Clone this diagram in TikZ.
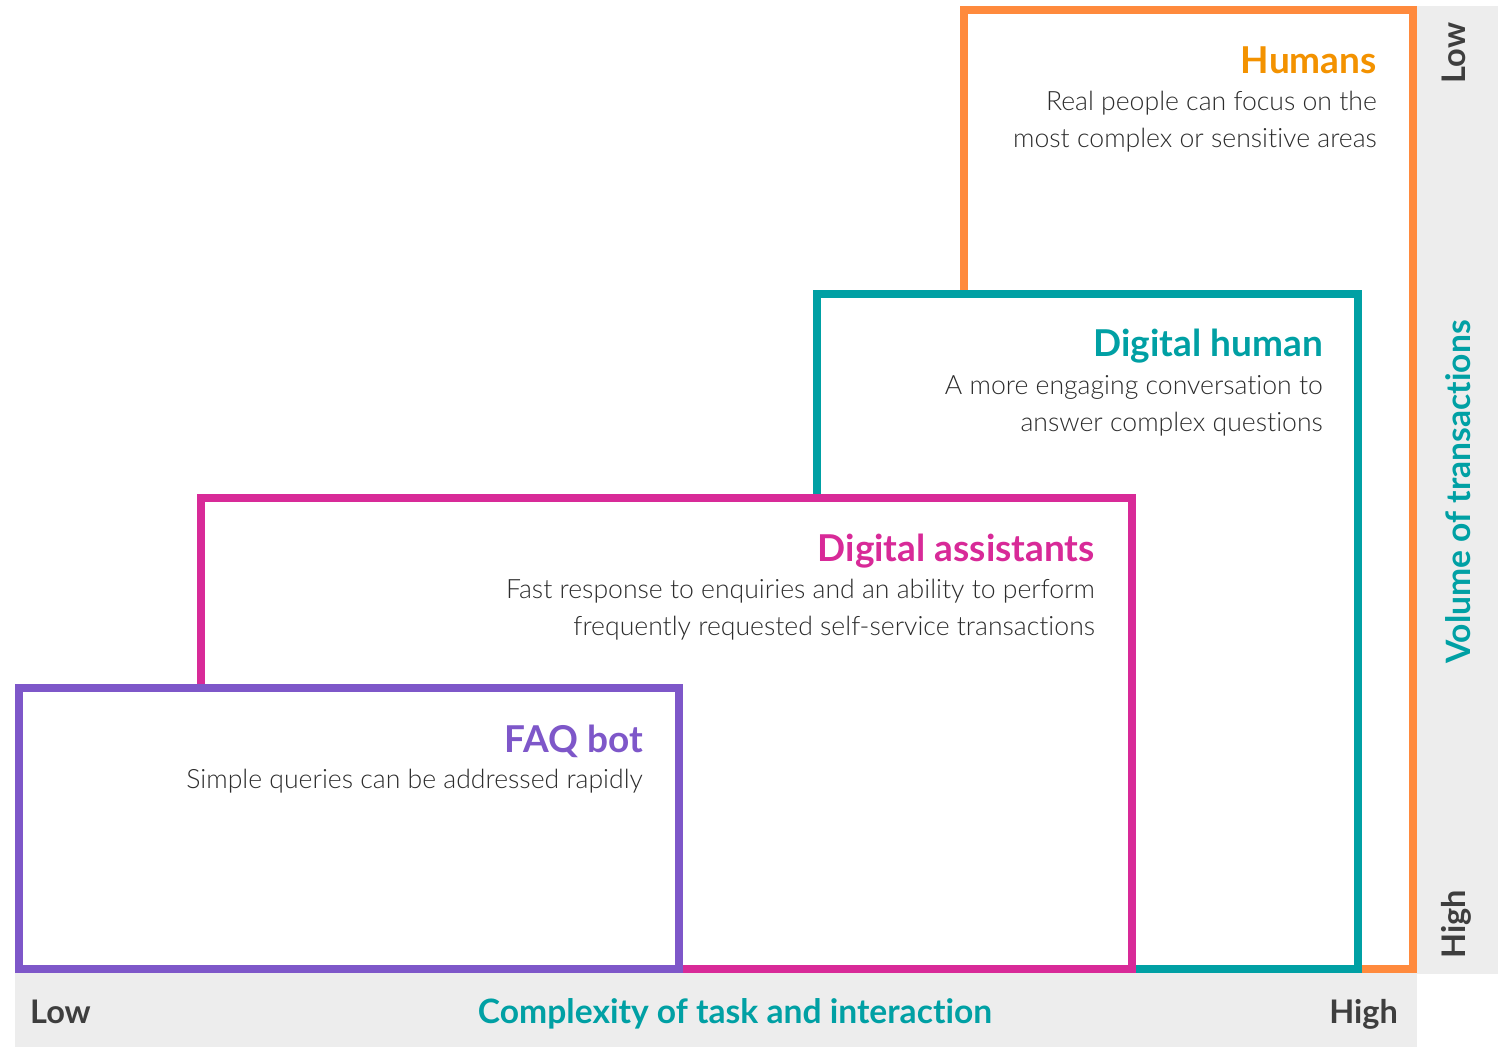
\documentclass[tikz,border=0pt]{standalone}
\usepackage{fontspec}
\setmainfont{Lato}[Ligatures=CommonOff]
\newfontfamily\lightfont{Lato Light}[Ligatures=CommonOff]
\definecolor{humanorange}{HTML}{FF8A3D}
\definecolor{humantitle}{HTML}{F39200}
\definecolor{dhteal}{HTML}{00A0A4}
\definecolor{damagenta}{HTML}{D82A98}
\definecolor{faqpurple}{HTML}{7E57C9}
\definecolor{stripgray}{HTML}{EDEDED}
\definecolor{bodytext}{HTML}{2C2C2C}
\definecolor{axistext}{HTML}{3E3E3E}
\tikzset{
  tierbox/.style={draw=#1, line width=8pt, fill=white},
  tiertitle/.style={anchor=base east, inner sep=0pt, text=#1, font=\fontsize{37}{40}\selectfont\bfseries},
  tierbody/.style={anchor=base east, inner sep=0pt, text=bodytext, font=\lightfont\fontsize{26.6}{37}\selectfont},
  axisend/.style={inner sep=0pt, text=axistext, font=\fontsize{32.5}{36}\selectfont\bfseries},
  axisname/.style={inner sep=0pt, text=dhteal, font=\fontsize{33.6}{36}\selectfont\bfseries},
}
\begin{document}
\begin{tikzpicture}[x=1pt,y=-1pt]
\useasboundingbox (0,0) rectangle (1506,1047);

% axis strips
\fill[stripgray] (15,973) rectangle (1417,1047);
\fill[stripgray] (1417,6) rectangle (1498,974);

% nested tiers, back to front
\draw[tierbox=humanorange] (964,10) rectangle (1413,969);
\draw[tierbox=dhteal] (817,294) rectangle (1358,969);
\draw[tierbox=damagenta] (201,498) rectangle (1132,969);
\draw[tierbox=faqpurple] (19,688) rectangle (679,969);

% Humans
\node[tiertitle=humantitle] (humans) at (1377,73) {Humans};
\node[tierbody] (humans1) at (1377,110) {Real people can focus on the};
\node[tierbody] (humans2) at (1377,147) {most complex or sensitive areas};

% Digital human
\node[tiertitle=dhteal] (dighuman) at (1323,356) {Digital human};
\node[tierbody] (dighuman1) at (1323,394) {A more engaging conversation to};
\node[tierbody] (dighuman2) at (1323,431) {answer complex questions};

% Digital assistants
\node[tiertitle=damagenta] (digassist) at (1095,561) {Digital assistants};
\node[tierbody] (digassist1) at (1095,598) {Fast response to enquiries and an ability to perform};
\node[tierbody] (digassist2) at (1095,635) {frequently requested self-service transactions};

% FAQ bot
\node[tiertitle=faqpurple] (faqbot) at (643,752) {FAQ bot};
\node[tierbody] (faqbot1) at (643,788) {Simple queries can be addressed rapidly};

% horizontal axis
\node[axisend, anchor=base west] (xlow) at (30,1023) {Low};
\node[axisname, anchor=base] (xname) at (735,1023) {Complexity of task and interaction};
\node[axisend, anchor=base east] (xhigh) at (1398,1023) {High};

% vertical axis
\node[axisend, anchor=base, rotate=90] (ylow) at (1465,53) {Low};
\node[axisname, anchor=base, rotate=90] (yname) at (1470,492) {Volume of transactions};
\node[axisend, anchor=base, rotate=90] (yhigh) at (1465,924) {High};
\end{tikzpicture}
\end{document}
